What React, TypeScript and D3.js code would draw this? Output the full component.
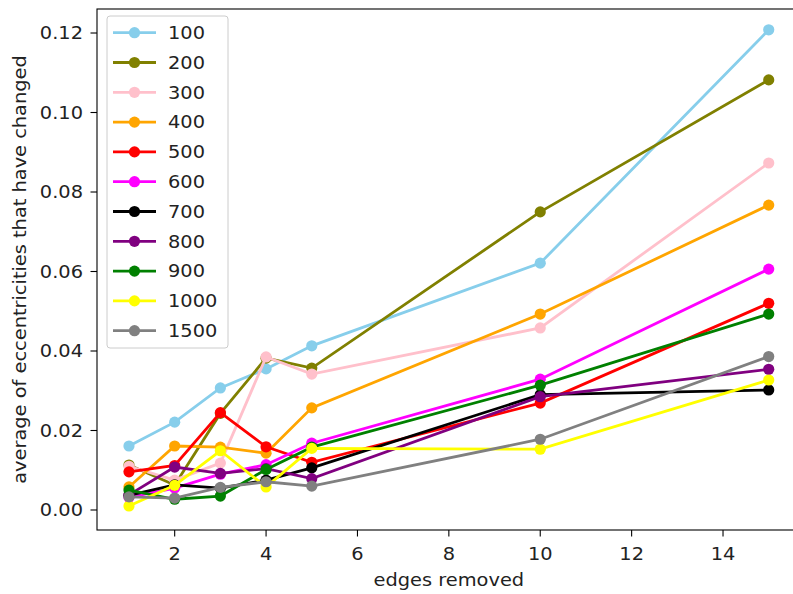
import React from "react";
import * as d3 from "d3";

const xValues = [1, 2, 3, 4, 5, 10, 15];
const seriesNames = ["100", "200", "300", "400", "500", "600", "700", "800", "900", "1000", "1500"];
const seriesColors = ["skyblue", "olive", "pink", "orange", "red", "magenta", "black", "purple", "green", "yellow", "gray"];
const s100 = [0.0161, 0.0221, 0.0307, 0.0355, 0.0413, 0.0621, 0.1208];
const s200 = [0.0113, 0.0063, 0.0243, 0.0382, 0.0357, 0.075, 0.1082];
const s300 = [0.011, 0.0075, 0.0118, 0.0385, 0.0342, 0.0458, 0.0873];
const s400 = [0.0058, 0.0161, 0.0158, 0.0143, 0.0257, 0.0493, 0.0767];
const s500 = [0.0096, 0.0112, 0.0245, 0.0159, 0.012, 0.0269, 0.052];
const s600 = [0.0032, 0.0055, 0.009, 0.0114, 0.0168, 0.0329, 0.0606];
const s700 = [0.0037, 0.0063, 0.0055, 0.0075, 0.0106, 0.029, 0.0302];
const s800 = [0.0038, 0.0108, 0.0092, 0.0104, 0.0079, 0.0285, 0.0354];
const s900 = [0.005, 0.0027, 0.0035, 0.0102, 0.0158, 0.0314, 0.0493];
const s1000 = [0.001, 0.0062, 0.0149, 0.0058, 0.0155, 0.0153, 0.0327];
const s1500 = [0.0033, 0.003, 0.0057, 0.0071, 0.006, 0.0178, 0.0386];
const allSeries = [s100, s200, s300, s400, s500, s600, s700, s800, s900, s1000, s1500];
const xTicks = [2, 4, 6, 8, 10, 12, 14];
const yTicks = [0, 0.02, 0.04, 0.06, 0.08, 0.1, 0.12];

const FONT = "DejaVu Sans, sans-serif";
const FS = 17;
const SX = 1.14;

function T({ x, y, anchor = "start", rotate = 0, children }: { x: number; y: number; anchor?: string; rotate?: number; children: React.ReactNode }) {
  return (
    <text
      transform={`translate(${x},${y}) rotate(${rotate}) scale(${SX},1)`}
      textAnchor={anchor}
      fontFamily={FONT}
      fontSize={FS}
      fill="#222"
    >
      {children}
    </text>
  );
}

export default function App() {
  const W = 793, H = 594;
  const left = 97, right = 800.7, top = 9, bottom = 530;
  const x = d3.scaleLinear().domain([0.3, 15.7]).range([left, right]);
  const y = d3.scaleLinear().domain([-0.005033, 0.12604]).range([bottom, top]);
  const line = d3.line<number>().x((_, i) => x(xValues[i])).y((d) => y(d));
  const LW = 2.8, R = 5.6;
  return (
    <svg width={W} height={H} style={{ position: "absolute", left: 0, top: 0, background: "#fff" }}>
      <rect x={0} y={0} width={W} height={H} fill="#fff" />
      {allSeries.map((s, k) => (
        <g key={k}>
          <path d={line(s) || ""} fill="none" stroke={seriesColors[k]} strokeWidth={LW} />
          {s.map((v, i) => (
            <circle key={i} cx={x(xValues[i])} cy={y(v)} r={R} fill={seriesColors[k]} />
          ))}
        </g>
      ))}
      {/* axes */}
      <rect x={left} y={top} width={right - left} height={bottom - top} fill="none" stroke="#000" strokeWidth={1.1} />
      {xTicks.map((t) => (
        <g key={t}>
          <line x1={x(t)} x2={x(t)} y1={bottom} y2={bottom + 6.5} stroke="#000" strokeWidth={1.1} />
          <T x={x(t)} y={560} anchor="middle">{t}</T>
        </g>
      ))}
      {yTicks.map((t) => (
        <g key={t}>
          <line x1={left - 6.5} x2={left} y1={y(t)} y2={y(t)} stroke="#000" strokeWidth={1.1} />
          <T x={left - 14} y={y(t) + 6.3} anchor="end">{t.toFixed(2)}</T>
        </g>
      ))}
      <T x={(left + right) / 2} y={586} anchor="middle">edges removed</T>
      <T x={26} y={(top + bottom) / 2} anchor="middle" rotate={-90}>average of eccentricities that have changed</T>
      {/* legend */}
      <rect x={107} y={16} width={121} height={332} rx={3} fill="#fff" fillOpacity={0.8} stroke="#ccc" strokeWidth={1} />
      {seriesNames.map((n, k) => {
        const ly = 32.7 + k * 29.8;
        return (
          <g key={n}>
            <line x1={113} x2={156} y1={ly} y2={ly} stroke={seriesColors[k]} strokeWidth={LW} />
            <circle cx={134.5} cy={ly} r={R} fill={seriesColors[k]} />
            <T x={168} y={ly + 6.2}>{n}</T>
          </g>
        );
      })}
    </svg>
  );
}
